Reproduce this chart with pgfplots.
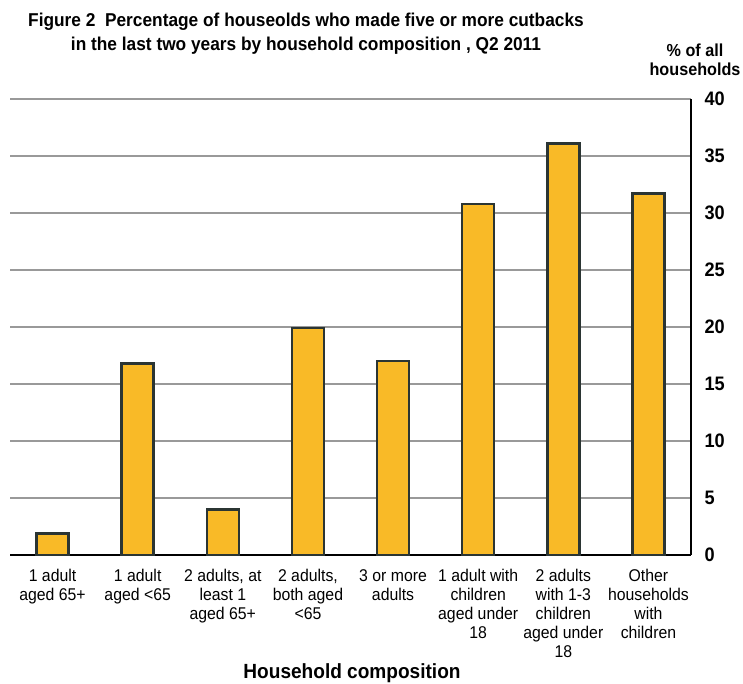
\documentclass[border=0pt]{standalone}
\usepackage{pgfplots}
\pgfplotsset{compat=1.18}
\usepackage{fontspec}
\setmainfont{Liberation Sans}[FakeStretch=0.93]
\definecolor{barfill}{HTML}{F9BA27}
\definecolor{barline}{HTML}{2B3533}
\definecolor{gridc}{HTML}{999999}
\begin{document}
\begin{tikzpicture}[x=1pt,y=1pt]
\path[use as bounding box] (0,0) rectangle (743,684);
\begin{axis}[
  at={(10pt,129pt)}, anchor=south west,
  scale only axis, width=681pt, height=456pt,
  xmin=-0.5, xmax=7.5, ymin=0, ymax=40,
  axis x line*=bottom, axis y line*=right,
  axis line style={-, line width=2.6pt, black},
  ytick={0,5,...,40},
  xtick={0,...,7},
  xticklabels={{1 adult\\aged 65+},{1 adult\\aged <65},{2 adults, at\\least 1\\aged 65+},{2 adults,\\both aged\\<65},{3 or more\\adults},{1 adult with\\children\\aged under\\18},{2 adults\\with 1-3\\children\\aged under\\18},{Other\\households\\with\\children}},
  xticklabel style={align=center, font=\fontsize{17}{19}\selectfont, yshift=-11pt},
  yticklabel style={font=\bfseries\fontsize{19.5}{19.5}\selectfont, xshift=10pt},
  /pgf/number format/assume math mode=true,
  major tick length=0pt,
  ymajorgrids, major grid style={gridc, line width=2.8pt},
  clip=false,
]
\addplot[ybar, bar width=32pt, fill=barfill, draw=barline, line width=2.6pt]
  coordinates {(0,1.9) (1,16.8) (2,4.0) (3,19.9) (4,17.0) (5,30.8) (6,36.1) (7,31.7)};
\end{axis}
\node[align=center, font=\bfseries\fontsize{18.6}{24}\selectfont] at (306,650) {Figure 2\ \ Percentage of houseolds who made five or more cutbacks\\in the last two years by household composition , Q2 2011};
\node[align=center, font=\bfseries\fontsize{17.4}{19}\selectfont] at (695,624) {\% of all\\households};
\node[font=\bfseries\fontsize{20.5}{20.5}\selectfont, anchor=south, inner sep=0pt] at (352,1.5) {Household composition};
\end{tikzpicture}
\end{document}
